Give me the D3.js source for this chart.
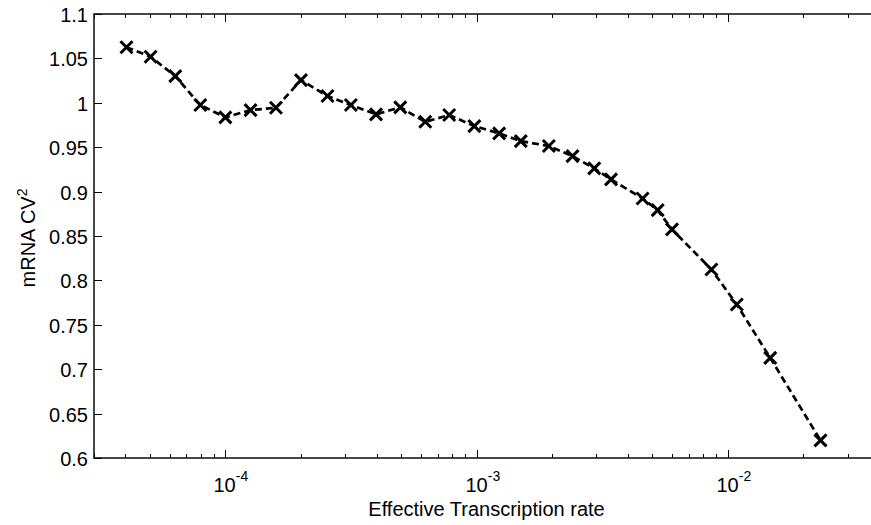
<!DOCTYPE html>
<html><head><meta charset="utf-8">
<script src="https://cdn.jsdelivr.net/npm/d3@7"></script>
<style>body{margin:0;background:#fff}svg text{font-family:"Liberation Sans",Arial,sans-serif;fill:#000}</style>
</head><body>
<svg id="c" width="871" height="525"></svg>
<script>
const rates = [4.04e-5,5.04e-5,6.32e-5,7.95e-5,1.0e-4,1.26e-4,1.59e-4,2.0e-4,2.55e-4,3.16e-4,3.98e-4,4.97e-4,6.25e-4,7.78e-4,9.8e-4,1.23e-3,1.50e-3,1.94e-3,2.41e-3,2.94e-3,3.43e-3,4.58e-3,5.26e-3,6.0e-3,8.61e-3,1.086e-2,1.476e-2,2.34e-2];
const cv2 = [1.0625,1.0519,1.030,0.9975,0.9836,0.9918,0.9944,1.0256,1.0076,0.9975,0.987,0.9949,0.9786,0.9862,0.9738,0.9656,0.9569,0.9513,0.940,0.9261,0.9137,0.8923,0.8791,0.8574,0.8123,0.7729,0.7127,0.6199];
const yTicks = [0.6,0.65,0.7,0.75,0.8,0.85,0.9,0.95,1,1.05,1.1];
const yTickLabels = ["0.6","0.65","0.7","0.75","0.8","0.85","0.9","0.95","1","1.05","1.1"];
const xMajor = [1e-4,1e-3,1e-2];
const xMajorExp = ["-4","-3","-2"];
const xLabel = "Effective Transcription rate";
const yLabel = "mRNA CV";

const svg = d3.select("#c");
const L=94, R=879, T=14, B=458;
const x = d3.scaleLog().domain([3e-5,4e-2]).range([L,R]);
const y = d3.scaleLinear().domain([0.6,1.1]).range([B,T]);

const minor=[];
[1e-5,1e-4,1e-3,1e-2].forEach(d=>{for(let k=2;k<=9;k++){const v=k*d; if(v>=3e-5&&v<=4e-2) minor.push(v);}});

const g = svg.append("g");
g.append("rect").attr("x",L).attr("y",T).attr("width",R-L).attr("height",B-T)
 .attr("fill","none").attr("stroke","#1a1a1a").attr("stroke-width",1.6);

minor.forEach(v=>{
  const px=Math.round(x(v))+0.5;
  g.append("line").attr("x1",px).attr("x2",px).attr("y1",B).attr("y2",B-4).attr("stroke","#000");
  g.append("line").attr("x1",px).attr("x2",px).attr("y1",T).attr("y2",T+4).attr("stroke","#000");
});
xMajor.forEach((v,i)=>{
  const px=Math.round(x(v))+0.5;
  g.append("line").attr("x1",px).attr("x2",px).attr("y1",B).attr("y2",B-8).attr("stroke","#000");
  g.append("line").attr("x1",px).attr("x2",px).attr("y1",T).attr("y2",T+8).attr("stroke","#000");
  const t=g.append("text").attr("x",px-12).attr("y",492).attr("font-size",20);
  t.append("tspan").text("10");
  t.append("tspan").attr("dy",-11).attr("font-size",14).text(xMajorExp[i]);
});
yTicks.forEach((v,i)=>{
  const py=Math.round(y(v))+0.5;
  g.append("line").attr("x1",L).attr("x2",L+8).attr("y1",py).attr("y2",py).attr("stroke","#000");
  g.append("line").attr("x1",R).attr("x2",R-8).attr("y1",py).attr("y2",py).attr("stroke","#000");
  g.append("text").attr("x",88).attr("y",py).attr("dy","0.35em").attr("text-anchor","end")
   .attr("font-size",20).text(yTickLabels[i]);
});

svg.append("text").attr("x",(L+R)/2).attr("y",516).attr("text-anchor","middle").attr("font-size",20).text(xLabel);
const yl=svg.append("text").attr("transform","translate(35,238) rotate(-90)").attr("text-anchor","middle").attr("font-size",20);
yl.append("tspan").text(yLabel);
yl.append("tspan").attr("dy",-8).attr("font-size",14).text("2");

const pts = rates.map((r,i)=>[r,cv2[i]]);
svg.append("path").datum(pts)
  .attr("d",d3.line().x(d=>x(d[0])).y(d=>y(d[1])))
  .attr("fill","none").attr("stroke","#000").attr("stroke-width",2.7).attr("stroke-dasharray","7,4");
const s=6;
svg.append("g").selectAll("path").data(pts).join("path")
  .attr("d",d=>{const cx=x(d[0]),cy=y(d[1]);return `M${cx-s},${cy-s}L${cx+s},${cy+s}M${cx-s},${cy+s}L${cx+s},${cy-s}`;})
  .attr("stroke","#000").attr("stroke-width",3).attr("fill","none");
</script>
</body></html>
